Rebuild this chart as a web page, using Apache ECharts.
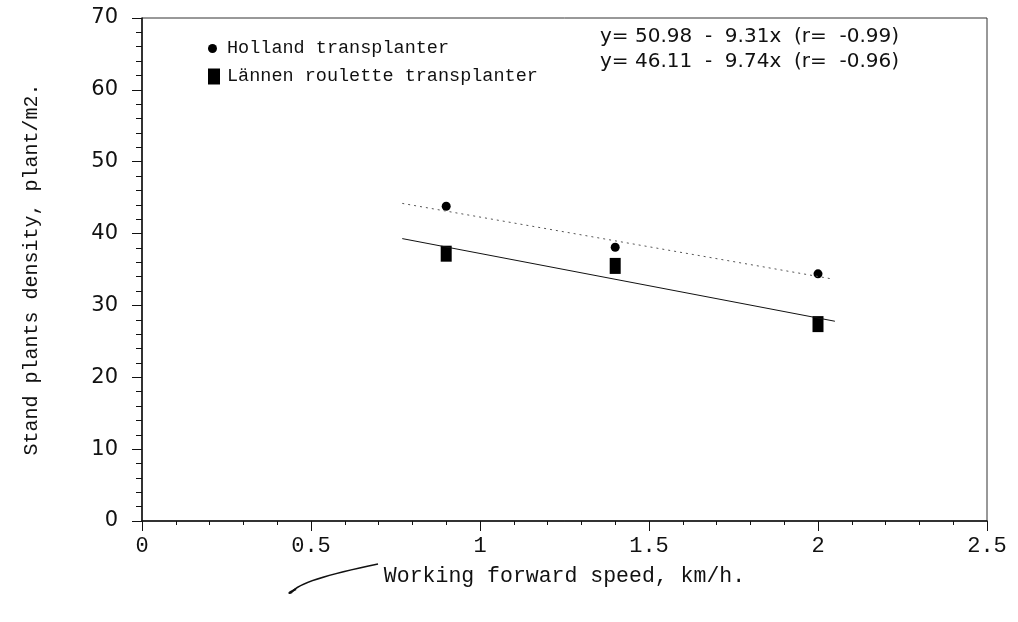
<!DOCTYPE html>
<html>
<head>
<meta charset="utf-8">
<script src="https://cdn.jsdelivr.net/npm/echarts@6/dist/echarts.min.js"></script>
<style>
  html, body { margin: 0; padding: 0; background: #fff; }
  #chart { width: 1018px; height: 622px; }
</style>
</head>
<body>
<div id="chart"></div>
<script>
// speeds (km/h)
var speeds = [0.9, 1.4, 2.0];
// stand density, plant/m2
var holland = [43.8, 38.1, 34.4];
var lannen = [37.2, 35.5, 27.4];
// fitted lines as drawn (end points)
var hollandFitX = [0.77, 2.04];
var hollandFitY = [44.2, 33.7];
var lannenFitX = [0.77, 2.05];
var lannenFitY = [39.3, 27.8];
var equations = ['y= 50.98  -  9.31x  (r=  -0.99)', 'y= 46.11  -  9.74x  (r=  -0.96)'];

function pairs(xs, ys) {
  var out = [];
  for (var i = 0; i < xs.length; i++) out.push([xs[i], ys[i]]);
  return out;
}

var mono = '"Liberation Mono", "DejaVu Sans Mono", monospace';
var sans = '"DejaVu Sans", sans-serif';

var myChart = echarts.init(document.getElementById('chart'));

var option = {
  backgroundColor: '#fff',
  animation: false,
  grid: {
    left: 142, right: 31, top: 18, bottom: 101,
    show: true, borderColor: '#333', borderWidth: 1
  },
  legend: [{
    left: 203, top: 34, itemWidth: 9, itemHeight: 9,
    data: [{ name: 'Holland transplanter', icon: 'circle', itemStyle: { color: '#000', opacity: 1 } }],
    textStyle: { fontFamily: mono, fontSize: 18.5, color: '#111', padding: [0, 0, 0, 5] }
  }, {
    left: 203, top: 62, itemWidth: 12, itemHeight: 16,
    data: [{ name: 'Lännen roulette transplanter', icon: 'rect', itemStyle: { color: '#000', opacity: 1 } }],
    textStyle: { fontFamily: mono, fontSize: 18.5, color: '#111', padding: [0, 0, 0, 2] }
  }],
  xAxis: {
    type: 'value', min: 0, max: 2.5, interval: 0.5,
    name: 'Working forward speed, km/h.',
    nameLocation: 'middle', nameGap: 44,
    nameTextStyle: { fontFamily: mono, fontSize: 21.5, color: '#111' },
    axisLine: { lineStyle: { color: '#111', width: 1.5 } },
    axisTick: { length: 10, lineStyle: { color: '#111' } },
    minorTick: { show: true, splitNumber: 5, length: 4, lineStyle: { color: '#111' } },
    axisLabel: { fontFamily: mono, fontSize: 22, color: '#111', margin: 14 },
    splitLine: { show: false }
  },
  yAxis: {
    type: 'value', min: 0, max: 70, interval: 10,
    name: 'Stand plants density, plant/m2.',
    nameLocation: 'middle', nameGap: 100, nameRotate: 90,
    nameTextStyle: { fontFamily: mono, fontSize: 20, color: '#111' },
    axisLine: { show: true, lineStyle: { color: '#111', width: 1.5 } },
    axisTick: { show: true, length: 10, lineStyle: { color: '#111' } },
    minorTick: { show: true, splitNumber: 5, length: 6, lineStyle: { color: '#111' } },
    axisLabel: { fontFamily: sans, fontSize: 21, color: '#111', margin: 24 },
    splitLine: { show: false }
  },
  graphic: [{
    type: 'text', left: 600, top: 27,
    style: { text: equations[0], fontFamily: sans, fontSize: 20, fill: '#111' }
  }, {
    type: 'text', left: 600, top: 52,
    style: { text: equations[1], fontFamily: sans, fontSize: 20, fill: '#111' }
  }, {
    // pen stroke beside the axis title
    type: 'bezierCurve',
    shape: { x1: 292, y1: 592, cpx1: 300, cpy1: 580, x2: 378, y2: 564 },
    style: { stroke: '#111', lineWidth: 1.5, fill: null }
  }, {
    type: 'bezierCurve',
    shape: { x1: 292, y1: 592, cpx1: 285, cpy1: 595, x2: 296, y2: 589 },
    style: { stroke: '#111', lineWidth: 2, fill: null }
  }],
  series: [{
    name: 'Holland fit', type: 'line', data: pairs(hollandFitX, hollandFitY),
    symbol: 'none', silent: true,
    lineStyle: { color: '#555', width: 1, type: [2, 4] }
  }, {
    name: 'Lännen fit', type: 'line', data: pairs(lannenFitX, lannenFitY),
    symbol: 'none', silent: true,
    lineStyle: { color: '#111', width: 1 }
  }, {
    name: 'Holland transplanter', type: 'scatter', data: pairs(speeds, holland),
    symbol: 'circle', symbolSize: 9,
    itemStyle: { color: '#000', opacity: 1 }
  }, {
    name: 'Lännen roulette transplanter', type: 'scatter', data: pairs(speeds, lannen),
    symbol: 'rect', symbolSize: [11, 16],
    itemStyle: { color: '#000', opacity: 1 }
  }]
};

myChart.setOption(option);
</script>
</body>
</html>
